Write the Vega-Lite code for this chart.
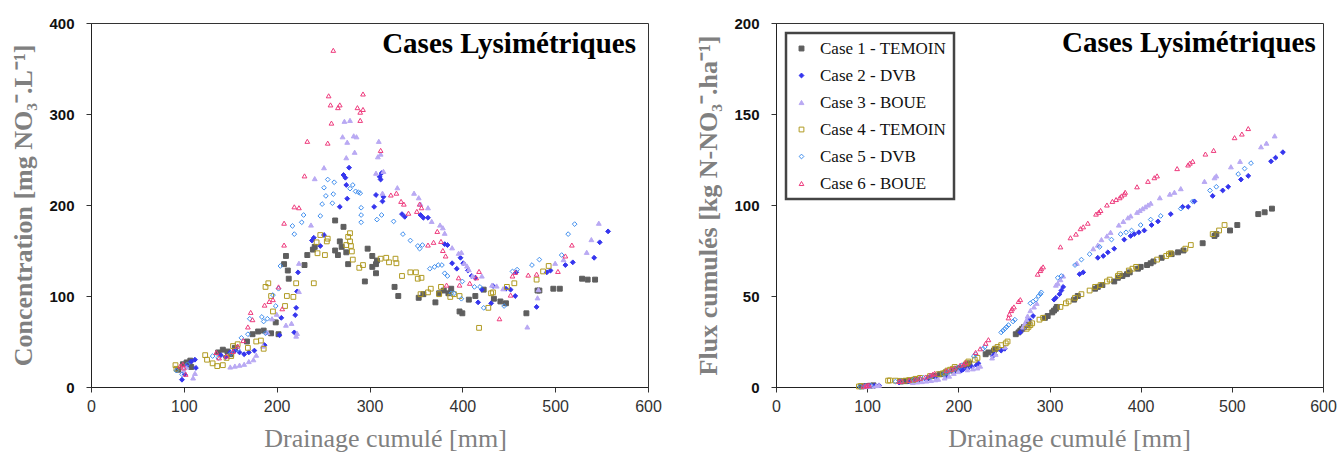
{
"$schema": "https://vega.github.io/schema/vega-lite/v6.json",
"padding": {"left": 10, "top": 15, "right": 5, "bottom": 5},
"background": "white",
"datasets": {
"conc": [
{"s":"Case 1 - TEMOIN","x":94,"y":19},{"s":"Case 1 - TEMOIN","x":99,"y":25},{"s":"Case 1 - TEMOIN","x":103,"y":27},{"s":"Case 1 - TEMOIN","x":107,"y":29},{"s":"Case 1 - TEMOIN","x":108,"y":22},{"s":"Case 1 - TEMOIN","x":137,"y":38},{"s":"Case 1 - TEMOIN","x":142,"y":41},{"s":"Case 1 - TEMOIN","x":147,"y":39},{"s":"Case 1 - TEMOIN","x":151,"y":36},{"s":"Case 1 - TEMOIN","x":155,"y":43},{"s":"Case 1 - TEMOIN","x":168,"y":50},{"s":"Case 1 - TEMOIN","x":174,"y":58},{"s":"Case 1 - TEMOIN","x":180,"y":61},{"s":"Case 1 - TEMOIN","x":186,"y":62},{"s":"Case 1 - TEMOIN","x":194,"y":59},{"s":"Case 1 - TEMOIN","x":199,"y":71},{"s":"Case 1 - TEMOIN","x":202,"y":58},{"s":"Case 1 - TEMOIN","x":208,"y":135},{"s":"Case 1 - TEMOIN","x":210,"y":144},{"s":"Case 1 - TEMOIN","x":212,"y":128},{"s":"Case 1 - TEMOIN","x":213,"y":119},{"s":"Case 1 - TEMOIN","x":230,"y":134},{"s":"Case 1 - TEMOIN","x":233,"y":145},{"s":"Case 1 - TEMOIN","x":239,"y":151},{"s":"Case 1 - TEMOIN","x":241,"y":154},{"s":"Case 1 - TEMOIN","x":263,"y":183},{"s":"Case 1 - TEMOIN","x":263,"y":150},{"s":"Case 1 - TEMOIN","x":266,"y":145},{"s":"Case 1 - TEMOIN","x":268,"y":160},{"s":"Case 1 - TEMOIN","x":270,"y":154},{"s":"Case 1 - TEMOIN","x":272,"y":176},{"s":"Case 1 - TEMOIN","x":275,"y":148},{"s":"Case 1 - TEMOIN","x":277,"y":135},{"s":"Case 1 - TEMOIN","x":295,"y":116},{"s":"Case 1 - TEMOIN","x":298,"y":152},{"s":"Case 1 - TEMOIN","x":303,"y":132},{"s":"Case 1 - TEMOIN","x":303,"y":144},{"s":"Case 1 - TEMOIN","x":307,"y":135},{"s":"Case 1 - TEMOIN","x":308,"y":139},{"s":"Case 1 - TEMOIN","x":307,"y":125},{"s":"Case 1 - TEMOIN","x":327,"y":110},{"s":"Case 1 - TEMOIN","x":331,"y":100},{"s":"Case 1 - TEMOIN","x":353,"y":98},{"s":"Case 1 - TEMOIN","x":358,"y":102},{"s":"Case 1 - TEMOIN","x":371,"y":93},{"s":"Case 1 - TEMOIN","x":375,"y":103},{"s":"Case 1 - TEMOIN","x":380,"y":106},{"s":"Case 1 - TEMOIN","x":385,"y":103},{"s":"Case 1 - TEMOIN","x":388,"y":108},{"s":"Case 1 - TEMOIN","x":397,"y":83},{"s":"Case 1 - TEMOIN","x":400,"y":81},{"s":"Case 1 - TEMOIN","x":407,"y":96},{"s":"Case 1 - TEMOIN","x":414,"y":100},{"s":"Case 1 - TEMOIN","x":423,"y":107},{"s":"Case 1 - TEMOIN","x":434,"y":97},{"s":"Case 1 - TEMOIN","x":441,"y":94},{"s":"Case 1 - TEMOIN","x":447,"y":92},{"s":"Case 1 - TEMOIN","x":469,"y":81},{"s":"Case 1 - TEMOIN","x":481,"y":106},{"s":"Case 1 - TEMOIN","x":483,"y":106},{"s":"Case 1 - TEMOIN","x":498,"y":108},{"s":"Case 1 - TEMOIN","x":505,"y":108},{"s":"Case 1 - TEMOIN","x":529,"y":119},{"s":"Case 1 - TEMOIN","x":535,"y":118},{"s":"Case 1 - TEMOIN","x":543,"y":118},
{"s":"Case 2 - DVB","x":98,"y":8},{"s":"Case 2 - DVB","x":101,"y":14},{"s":"Case 2 - DVB","x":103,"y":23},{"s":"Case 2 - DVB","x":108,"y":28},{"s":"Case 2 - DVB","x":112,"y":30},{"s":"Case 2 - DVB","x":113,"y":21},{"s":"Case 2 - DVB","x":140,"y":35},{"s":"Case 2 - DVB","x":145,"y":33},{"s":"Case 2 - DVB","x":150,"y":38},{"s":"Case 2 - DVB","x":155,"y":40},{"s":"Case 2 - DVB","x":160,"y":38},{"s":"Case 2 - DVB","x":165,"y":36},{"s":"Case 2 - DVB","x":170,"y":38},{"s":"Case 2 - DVB","x":176,"y":40},{"s":"Case 2 - DVB","x":187,"y":46},{"s":"Case 2 - DVB","x":203,"y":57},{"s":"Case 2 - DVB","x":205,"y":76},{"s":"Case 2 - DVB","x":219,"y":60},{"s":"Case 2 - DVB","x":220,"y":79},{"s":"Case 2 - DVB","x":221,"y":87},{"s":"Case 2 - DVB","x":222,"y":105},{"s":"Case 2 - DVB","x":223,"y":126},{"s":"Case 2 - DVB","x":238,"y":161},{"s":"Case 2 - DVB","x":240,"y":164},{"s":"Case 2 - DVB","x":247,"y":155},{"s":"Case 2 - DVB","x":251,"y":167},{"s":"Case 2 - DVB","x":268,"y":198},{"s":"Case 2 - DVB","x":272,"y":233},{"s":"Case 2 - DVB","x":274,"y":230},{"s":"Case 2 - DVB","x":275,"y":222},{"s":"Case 2 - DVB","x":276,"y":207},{"s":"Case 2 - DVB","x":278,"y":241},{"s":"Case 2 - DVB","x":305,"y":198},{"s":"Case 2 - DVB","x":307,"y":211},{"s":"Case 2 - DVB","x":311,"y":231},{"s":"Case 2 - DVB","x":312,"y":228},{"s":"Case 2 - DVB","x":313,"y":235},{"s":"Case 2 - DVB","x":314,"y":204},{"s":"Case 2 - DVB","x":315,"y":209},{"s":"Case 2 - DVB","x":335,"y":190},{"s":"Case 2 - DVB","x":338,"y":187},{"s":"Case 2 - DVB","x":355,"y":189},{"s":"Case 2 - DVB","x":358,"y":186},{"s":"Case 2 - DVB","x":363,"y":186},{"s":"Case 2 - DVB","x":381,"y":157},{"s":"Case 2 - DVB","x":384,"y":156},{"s":"Case 2 - DVB","x":389,"y":136},{"s":"Case 2 - DVB","x":394,"y":130},{"s":"Case 2 - DVB","x":398,"y":142},{"s":"Case 2 - DVB","x":401,"y":136},{"s":"Case 2 - DVB","x":406,"y":128},{"s":"Case 2 - DVB","x":410,"y":122},{"s":"Case 2 - DVB","x":414,"y":120},{"s":"Case 2 - DVB","x":417,"y":93},{"s":"Case 2 - DVB","x":421,"y":107},{"s":"Case 2 - DVB","x":431,"y":92},{"s":"Case 2 - DVB","x":433,"y":111},{"s":"Case 2 - DVB","x":447,"y":108},{"s":"Case 2 - DVB","x":452,"y":107},{"s":"Case 2 - DVB","x":457,"y":100},{"s":"Case 2 - DVB","x":458,"y":126},{"s":"Case 2 - DVB","x":480,"y":88},{"s":"Case 2 - DVB","x":491,"y":126},{"s":"Case 2 - DVB","x":495,"y":128},{"s":"Case 2 - DVB","x":511,"y":134},{"s":"Case 2 - DVB","x":519,"y":137},{"s":"Case 2 - DVB","x":542,"y":142},{"s":"Case 2 - DVB","x":548,"y":159},{"s":"Case 2 - DVB","x":557,"y":171},
{"s":"Case 3 - BOUE","x":100,"y":18},{"s":"Case 3 - BOUE","x":103,"y":22},{"s":"Case 3 - BOUE","x":110,"y":10},{"s":"Case 3 - BOUE","x":112,"y":15},{"s":"Case 3 - BOUE","x":150,"y":22},{"s":"Case 3 - BOUE","x":155,"y":23},{"s":"Case 3 - BOUE","x":160,"y":24},{"s":"Case 3 - BOUE","x":165,"y":25},{"s":"Case 3 - BOUE","x":170,"y":28},{"s":"Case 3 - BOUE","x":175,"y":30},{"s":"Case 3 - BOUE","x":178,"y":35},{"s":"Case 3 - BOUE","x":185,"y":45},{"s":"Case 3 - BOUE","x":190,"y":60},{"s":"Case 3 - BOUE","x":195,"y":75},{"s":"Case 3 - BOUE","x":200,"y":80},{"s":"Case 3 - BOUE","x":210,"y":68},{"s":"Case 3 - BOUE","x":216,"y":70},{"s":"Case 3 - BOUE","x":221,"y":56},{"s":"Case 3 - BOUE","x":222,"y":59},{"s":"Case 3 - BOUE","x":224,"y":105},{"s":"Case 3 - BOUE","x":224,"y":136},{"s":"Case 3 - BOUE","x":237,"y":178},{"s":"Case 3 - BOUE","x":241,"y":229},{"s":"Case 3 - BOUE","x":251,"y":241},{"s":"Case 3 - BOUE","x":271,"y":275},{"s":"Case 3 - BOUE","x":273,"y":292},{"s":"Case 3 - BOUE","x":279,"y":293},{"s":"Case 3 - BOUE","x":275,"y":252},{"s":"Case 3 - BOUE","x":276,"y":269},{"s":"Case 3 - BOUE","x":283,"y":276},{"s":"Case 3 - BOUE","x":286,"y":275},{"s":"Case 3 - BOUE","x":284,"y":258},{"s":"Case 3 - BOUE","x":307,"y":235},{"s":"Case 3 - BOUE","x":309,"y":253},{"s":"Case 3 - BOUE","x":310,"y":270},{"s":"Case 3 - BOUE","x":312,"y":256},{"s":"Case 3 - BOUE","x":314,"y":213},{"s":"Case 3 - BOUE","x":315,"y":237},{"s":"Case 3 - BOUE","x":330,"y":219},{"s":"Case 3 - BOUE","x":348,"y":213},{"s":"Case 3 - BOUE","x":353,"y":208},{"s":"Case 3 - BOUE","x":355,"y":201},{"s":"Case 3 - BOUE","x":363,"y":197},{"s":"Case 3 - BOUE","x":367,"y":182},{"s":"Case 3 - BOUE","x":376,"y":178},{"s":"Case 3 - BOUE","x":379,"y":175},{"s":"Case 3 - BOUE","x":381,"y":169},{"s":"Case 3 - BOUE","x":389,"y":153},{"s":"Case 3 - BOUE","x":396,"y":147},{"s":"Case 3 - BOUE","x":399,"y":148},{"s":"Case 3 - BOUE","x":402,"y":136},{"s":"Case 3 - BOUE","x":405,"y":133},{"s":"Case 3 - BOUE","x":407,"y":129},{"s":"Case 3 - BOUE","x":411,"y":122},{"s":"Case 3 - BOUE","x":421,"y":122},{"s":"Case 3 - BOUE","x":432,"y":112},{"s":"Case 3 - BOUE","x":437,"y":111},{"s":"Case 3 - BOUE","x":444,"y":108},{"s":"Case 3 - BOUE","x":470,"y":66},{"s":"Case 3 - BOUE","x":481,"y":98},{"s":"Case 3 - BOUE","x":482,"y":107},{"s":"Case 3 - BOUE","x":500,"y":136},{"s":"Case 3 - BOUE","x":509,"y":140},{"s":"Case 3 - BOUE","x":534,"y":148},{"s":"Case 3 - BOUE","x":539,"y":162},{"s":"Case 3 - BOUE","x":547,"y":180},
{"s":"Case 4 - TEMOIN","x":91,"y":24},{"s":"Case 4 - TEMOIN","x":92,"y":20},{"s":"Case 4 - TEMOIN","x":123,"y":35},{"s":"Case 4 - TEMOIN","x":125,"y":30},{"s":"Case 4 - TEMOIN","x":131,"y":26},{"s":"Case 4 - TEMOIN","x":136,"y":23},{"s":"Case 4 - TEMOIN","x":142,"y":24},{"s":"Case 4 - TEMOIN","x":146,"y":32},{"s":"Case 4 - TEMOIN","x":151,"y":34},{"s":"Case 4 - TEMOIN","x":153,"y":45},{"s":"Case 4 - TEMOIN","x":158,"y":47},{"s":"Case 4 - TEMOIN","x":169,"y":43},{"s":"Case 4 - TEMOIN","x":178,"y":50},{"s":"Case 4 - TEMOIN","x":183,"y":51},{"s":"Case 4 - TEMOIN","x":186,"y":42},{"s":"Case 4 - TEMOIN","x":188,"y":110},{"s":"Case 4 - TEMOIN","x":191,"y":114},{"s":"Case 4 - TEMOIN","x":194,"y":100},{"s":"Case 4 - TEMOIN","x":196,"y":83},{"s":"Case 4 - TEMOIN","x":209,"y":89},{"s":"Case 4 - TEMOIN","x":211,"y":100},{"s":"Case 4 - TEMOIN","x":218,"y":99},{"s":"Case 4 - TEMOIN","x":221,"y":114},{"s":"Case 4 - TEMOIN","x":240,"y":114},{"s":"Case 4 - TEMOIN","x":243,"y":159},{"s":"Case 4 - TEMOIN","x":244,"y":147},{"s":"Case 4 - TEMOIN","x":247,"y":167},{"s":"Case 4 - TEMOIN","x":252,"y":145},{"s":"Case 4 - TEMOIN","x":254,"y":160},{"s":"Case 4 - TEMOIN","x":255,"y":163},{"s":"Case 4 - TEMOIN","x":275,"y":156},{"s":"Case 4 - TEMOIN","x":277,"y":165},{"s":"Case 4 - TEMOIN","x":279,"y":169},{"s":"Case 4 - TEMOIN","x":279,"y":160},{"s":"Case 4 - TEMOIN","x":280,"y":155},{"s":"Case 4 - TEMOIN","x":281,"y":149},{"s":"Case 4 - TEMOIN","x":282,"y":140},{"s":"Case 4 - TEMOIN","x":289,"y":131},{"s":"Case 4 - TEMOIN","x":293,"y":134},{"s":"Case 4 - TEMOIN","x":312,"y":141},{"s":"Case 4 - TEMOIN","x":318,"y":142},{"s":"Case 4 - TEMOIN","x":321,"y":137},{"s":"Case 4 - TEMOIN","x":328,"y":141},{"s":"Case 4 - TEMOIN","x":329,"y":136},{"s":"Case 4 - TEMOIN","x":335,"y":122},{"s":"Case 4 - TEMOIN","x":344,"y":126},{"s":"Case 4 - TEMOIN","x":350,"y":126},{"s":"Case 4 - TEMOIN","x":352,"y":119},{"s":"Case 4 - TEMOIN","x":356,"y":120},{"s":"Case 4 - TEMOIN","x":355,"y":102},{"s":"Case 4 - TEMOIN","x":363,"y":104},{"s":"Case 4 - TEMOIN","x":366,"y":108},{"s":"Case 4 - TEMOIN","x":375,"y":102},{"s":"Case 4 - TEMOIN","x":377,"y":110},{"s":"Case 4 - TEMOIN","x":387,"y":99},{"s":"Case 4 - TEMOIN","x":391,"y":102},{"s":"Case 4 - TEMOIN","x":397,"y":100},{"s":"Case 4 - TEMOIN","x":418,"y":65},{"s":"Case 4 - TEMOIN","x":428,"y":87},{"s":"Case 4 - TEMOIN","x":431,"y":103},{"s":"Case 4 - TEMOIN","x":433,"y":104},{"s":"Case 4 - TEMOIN","x":448,"y":110},{"s":"Case 4 - TEMOIN","x":456,"y":114},{"s":"Case 4 - TEMOIN","x":480,"y":118},{"s":"Case 4 - TEMOIN","x":487,"y":127},{"s":"Case 4 - TEMOIN","x":493,"y":133},
{"s":"Case 5 - DVB","x":92,"y":18},{"s":"Case 5 - DVB","x":98,"y":14},{"s":"Case 5 - DVB","x":104,"y":25},{"s":"Case 5 - DVB","x":131,"y":34},{"s":"Case 5 - DVB","x":137,"y":32},{"s":"Case 5 - DVB","x":151,"y":37},{"s":"Case 5 - DVB","x":158,"y":41},{"s":"Case 5 - DVB","x":162,"y":54},{"s":"Case 5 - DVB","x":169,"y":58},{"s":"Case 5 - DVB","x":171,"y":75},{"s":"Case 5 - DVB","x":184,"y":77},{"s":"Case 5 - DVB","x":186,"y":72},{"s":"Case 5 - DVB","x":188,"y":59},{"s":"Case 5 - DVB","x":190,"y":75},{"s":"Case 5 - DVB","x":196,"y":101},{"s":"Case 5 - DVB","x":199,"y":89},{"s":"Case 5 - DVB","x":202,"y":108},{"s":"Case 5 - DVB","x":204,"y":133},{"s":"Case 5 - DVB","x":217,"y":177},{"s":"Case 5 - DVB","x":219,"y":168},{"s":"Case 5 - DVB","x":227,"y":181},{"s":"Case 5 - DVB","x":229,"y":189},{"s":"Case 5 - DVB","x":247,"y":188},{"s":"Case 5 - DVB","x":249,"y":201},{"s":"Case 5 - DVB","x":251,"y":219},{"s":"Case 5 - DVB","x":253,"y":210},{"s":"Case 5 - DVB","x":255,"y":228},{"s":"Case 5 - DVB","x":260,"y":202},{"s":"Case 5 - DVB","x":261,"y":212},{"s":"Case 5 - DVB","x":262,"y":225},{"s":"Case 5 - DVB","x":279,"y":218},{"s":"Case 5 - DVB","x":282,"y":222},{"s":"Case 5 - DVB","x":285,"y":215},{"s":"Case 5 - DVB","x":288,"y":214},{"s":"Case 5 - DVB","x":290,"y":213},{"s":"Case 5 - DVB","x":291,"y":197},{"s":"Case 5 - DVB","x":291,"y":189},{"s":"Case 5 - DVB","x":291,"y":181},{"s":"Case 5 - DVB","x":308,"y":184},{"s":"Case 5 - DVB","x":313,"y":189},{"s":"Case 5 - DVB","x":326,"y":182},{"s":"Case 5 - DVB","x":336,"y":168},{"s":"Case 5 - DVB","x":344,"y":161},{"s":"Case 5 - DVB","x":352,"y":155},{"s":"Case 5 - DVB","x":354,"y":152},{"s":"Case 5 - DVB","x":357,"y":156},{"s":"Case 5 - DVB","x":365,"y":130},{"s":"Case 5 - DVB","x":370,"y":132},{"s":"Case 5 - DVB","x":374,"y":134},{"s":"Case 5 - DVB","x":378,"y":134},{"s":"Case 5 - DVB","x":381,"y":125},{"s":"Case 5 - DVB","x":384,"y":122},{"s":"Case 5 - DVB","x":388,"y":103},{"s":"Case 5 - DVB","x":391,"y":103},{"s":"Case 5 - DVB","x":399,"y":97},{"s":"Case 5 - DVB","x":400,"y":116},{"s":"Case 5 - DVB","x":413,"y":110},{"s":"Case 5 - DVB","x":419,"y":110},{"s":"Case 5 - DVB","x":423,"y":87},{"s":"Case 5 - DVB","x":445,"y":89},{"s":"Case 5 - DVB","x":454,"y":127},{"s":"Case 5 - DVB","x":459,"y":129},{"s":"Case 5 - DVB","x":475,"y":134},{"s":"Case 5 - DVB","x":483,"y":140},{"s":"Case 5 - DVB","x":507,"y":145},{"s":"Case 5 - DVB","x":514,"y":168},{"s":"Case 5 - DVB","x":521,"y":179},
{"s":"Case 6 - BOUE","x":96,"y":23},{"s":"Case 6 - BOUE","x":99,"y":25},{"s":"Case 6 - BOUE","x":100,"y":21},{"s":"Case 6 - BOUE","x":102,"y":14},{"s":"Case 6 - BOUE","x":135,"y":38},{"s":"Case 6 - BOUE","x":138,"y":32},{"s":"Case 6 - BOUE","x":146,"y":34},{"s":"Case 6 - BOUE","x":153,"y":39},{"s":"Case 6 - BOUE","x":158,"y":45},{"s":"Case 6 - BOUE","x":164,"y":51},{"s":"Case 6 - BOUE","x":169,"y":66},{"s":"Case 6 - BOUE","x":172,"y":82},{"s":"Case 6 - BOUE","x":174,"y":74},{"s":"Case 6 - BOUE","x":187,"y":90},{"s":"Case 6 - BOUE","x":192,"y":94},{"s":"Case 6 - BOUE","x":196,"y":96},{"s":"Case 6 - BOUE","x":202,"y":110},{"s":"Case 6 - BOUE","x":206,"y":86},{"s":"Case 6 - BOUE","x":208,"y":156},{"s":"Case 6 - BOUE","x":208,"y":180},{"s":"Case 6 - BOUE","x":219,"y":198},{"s":"Case 6 - BOUE","x":224,"y":197},{"s":"Case 6 - BOUE","x":230,"y":232},{"s":"Case 6 - BOUE","x":233,"y":270},{"s":"Case 6 - BOUE","x":255,"y":268},{"s":"Case 6 - BOUE","x":256,"y":320},{"s":"Case 6 - BOUE","x":258,"y":310},{"s":"Case 6 - BOUE","x":259,"y":290},{"s":"Case 6 - BOUE","x":261,"y":370},{"s":"Case 6 - BOUE","x":266,"y":307},{"s":"Case 6 - BOUE","x":268,"y":310},{"s":"Case 6 - BOUE","x":287,"y":307},{"s":"Case 6 - BOUE","x":290,"y":302},{"s":"Case 6 - BOUE","x":290,"y":293},{"s":"Case 6 - BOUE","x":293,"y":322},{"s":"Case 6 - BOUE","x":293,"y":305},{"s":"Case 6 - BOUE","x":312,"y":260},{"s":"Case 6 - BOUE","x":323,"y":211},{"s":"Case 6 - BOUE","x":329,"y":213},{"s":"Case 6 - BOUE","x":334,"y":204},{"s":"Case 6 - BOUE","x":337,"y":201},{"s":"Case 6 - BOUE","x":342,"y":191},{"s":"Case 6 - BOUE","x":351,"y":193},{"s":"Case 6 - BOUE","x":354,"y":201},{"s":"Case 6 - BOUE","x":356,"y":197},{"s":"Case 6 - BOUE","x":363,"y":156},{"s":"Case 6 - BOUE","x":369,"y":159},{"s":"Case 6 - BOUE","x":373,"y":171},{"s":"Case 6 - BOUE","x":377,"y":160},{"s":"Case 6 - BOUE","x":379,"y":150},{"s":"Case 6 - BOUE","x":382,"y":144},{"s":"Case 6 - BOUE","x":383,"y":112},{"s":"Case 6 - BOUE","x":396,"y":120},{"s":"Case 6 - BOUE","x":397,"y":112},{"s":"Case 6 - BOUE","x":408,"y":114},{"s":"Case 6 - BOUE","x":415,"y":120},{"s":"Case 6 - BOUE","x":418,"y":127},{"s":"Case 6 - BOUE","x":440,"y":75},{"s":"Case 6 - BOUE","x":452,"y":101},{"s":"Case 6 - BOUE","x":454,"y":122},{"s":"Case 6 - BOUE","x":457,"y":126},{"s":"Case 6 - BOUE","x":471,"y":123},{"s":"Case 6 - BOUE","x":480,"y":124},{"s":"Case 6 - BOUE","x":503,"y":127},{"s":"Case 6 - BOUE","x":511,"y":144},{"s":"Case 6 - BOUE","x":518,"y":156}
],
"flux": [
{"s":"Case 1 - TEMOIN","x":94,"y":0.3},{"s":"Case 1 - TEMOIN","x":99,"y":0.5},{"s":"Case 1 - TEMOIN","x":103,"y":0.7},{"s":"Case 1 - TEMOIN","x":107,"y":0.9},{"s":"Case 1 - TEMOIN","x":137,"y":3},{"s":"Case 1 - TEMOIN","x":142,"y":3.2},{"s":"Case 1 - TEMOIN","x":147,"y":3.5},{"s":"Case 1 - TEMOIN","x":151,"y":3.8},{"s":"Case 1 - TEMOIN","x":155,"y":4},{"s":"Case 1 - TEMOIN","x":168,"y":5},{"s":"Case 1 - TEMOIN","x":174,"y":6},{"s":"Case 1 - TEMOIN","x":180,"y":7},{"s":"Case 1 - TEMOIN","x":186,"y":8},{"s":"Case 1 - TEMOIN","x":194,"y":9},{"s":"Case 1 - TEMOIN","x":199,"y":10},{"s":"Case 1 - TEMOIN","x":202,"y":10.5},{"s":"Case 1 - TEMOIN","x":208,"y":12},{"s":"Case 1 - TEMOIN","x":210,"y":12.5},{"s":"Case 1 - TEMOIN","x":212,"y":13},{"s":"Case 1 - TEMOIN","x":230,"y":18},{"s":"Case 1 - TEMOIN","x":233,"y":19},{"s":"Case 1 - TEMOIN","x":239,"y":20},{"s":"Case 1 - TEMOIN","x":241,"y":21},{"s":"Case 1 - TEMOIN","x":263,"y":29},{"s":"Case 1 - TEMOIN","x":266,"y":30},{"s":"Case 1 - TEMOIN","x":268,"y":31},{"s":"Case 1 - TEMOIN","x":270,"y":32},{"s":"Case 1 - TEMOIN","x":272,"y":33},{"s":"Case 1 - TEMOIN","x":275,"y":34},{"s":"Case 1 - TEMOIN","x":277,"y":35},{"s":"Case 1 - TEMOIN","x":295,"y":38},{"s":"Case 1 - TEMOIN","x":298,"y":39},{"s":"Case 1 - TEMOIN","x":303,"y":41},{"s":"Case 1 - TEMOIN","x":305,"y":42},{"s":"Case 1 - TEMOIN","x":307,"y":43},{"s":"Case 1 - TEMOIN","x":308,"y":44},{"s":"Case 1 - TEMOIN","x":327,"y":48},{"s":"Case 1 - TEMOIN","x":331,"y":50},{"s":"Case 1 - TEMOIN","x":350,"y":54},{"s":"Case 1 - TEMOIN","x":353,"y":55},{"s":"Case 1 - TEMOIN","x":358,"y":56},{"s":"Case 1 - TEMOIN","x":371,"y":58},{"s":"Case 1 - TEMOIN","x":375,"y":60},{"s":"Case 1 - TEMOIN","x":380,"y":61},{"s":"Case 1 - TEMOIN","x":385,"y":62},{"s":"Case 1 - TEMOIN","x":388,"y":63},{"s":"Case 1 - TEMOIN","x":397,"y":65},{"s":"Case 1 - TEMOIN","x":400,"y":66},{"s":"Case 1 - TEMOIN","x":407,"y":67},{"s":"Case 1 - TEMOIN","x":411,"y":68},{"s":"Case 1 - TEMOIN","x":414,"y":69},{"s":"Case 1 - TEMOIN","x":423,"y":71},{"s":"Case 1 - TEMOIN","x":434,"y":73},{"s":"Case 1 - TEMOIN","x":441,"y":74},{"s":"Case 1 - TEMOIN","x":447,"y":75},{"s":"Case 1 - TEMOIN","x":468,"y":79},{"s":"Case 1 - TEMOIN","x":481,"y":83},{"s":"Case 1 - TEMOIN","x":483,"y":84},{"s":"Case 1 - TEMOIN","x":498,"y":86},{"s":"Case 1 - TEMOIN","x":506,"y":89},{"s":"Case 1 - TEMOIN","x":529,"y":95},{"s":"Case 1 - TEMOIN","x":536,"y":96},{"s":"Case 1 - TEMOIN","x":544,"y":98},
{"s":"Case 2 - DVB","x":97,"y":0.2},{"s":"Case 2 - DVB","x":100,"y":0.4},{"s":"Case 2 - DVB","x":103,"y":0.5},{"s":"Case 2 - DVB","x":108,"y":0.7},{"s":"Case 2 - DVB","x":113,"y":0.9},{"s":"Case 2 - DVB","x":135,"y":2.5},{"s":"Case 2 - DVB","x":145,"y":3},{"s":"Case 2 - DVB","x":155,"y":3.5},{"s":"Case 2 - DVB","x":165,"y":4},{"s":"Case 2 - DVB","x":176,"y":5},{"s":"Case 2 - DVB","x":187,"y":6},{"s":"Case 2 - DVB","x":195,"y":8},{"s":"Case 2 - DVB","x":203,"y":9},{"s":"Case 2 - DVB","x":205,"y":9.5},{"s":"Case 2 - DVB","x":210,"y":10},{"s":"Case 2 - DVB","x":215,"y":11},{"s":"Case 2 - DVB","x":220,"y":12},{"s":"Case 2 - DVB","x":222,"y":13},{"s":"Case 2 - DVB","x":238,"y":17},{"s":"Case 2 - DVB","x":240,"y":18},{"s":"Case 2 - DVB","x":247,"y":20},{"s":"Case 2 - DVB","x":251,"y":21},{"s":"Case 2 - DVB","x":268,"y":30},{"s":"Case 2 - DVB","x":272,"y":32},{"s":"Case 2 - DVB","x":275,"y":34},{"s":"Case 2 - DVB","x":278,"y":37},{"s":"Case 2 - DVB","x":282,"y":39},{"s":"Case 2 - DVB","x":305,"y":48},{"s":"Case 2 - DVB","x":307,"y":49},{"s":"Case 2 - DVB","x":311,"y":51},{"s":"Case 2 - DVB","x":313,"y":53},{"s":"Case 2 - DVB","x":315,"y":55},{"s":"Case 2 - DVB","x":333,"y":62},{"s":"Case 2 - DVB","x":337,"y":63},{"s":"Case 2 - DVB","x":353,"y":71},{"s":"Case 2 - DVB","x":359,"y":72},{"s":"Case 2 - DVB","x":364,"y":74},{"s":"Case 2 - DVB","x":371,"y":76},{"s":"Case 2 - DVB","x":382,"y":81},{"s":"Case 2 - DVB","x":389,"y":83},{"s":"Case 2 - DVB","x":393,"y":84},{"s":"Case 2 - DVB","x":398,"y":85},{"s":"Case 2 - DVB","x":404,"y":86},{"s":"Case 2 - DVB","x":412,"y":89},{"s":"Case 2 - DVB","x":419,"y":91},{"s":"Case 2 - DVB","x":433,"y":95},{"s":"Case 2 - DVB","x":446,"y":99},{"s":"Case 2 - DVB","x":452,"y":99},{"s":"Case 2 - DVB","x":459,"y":102},{"s":"Case 2 - DVB","x":479,"y":105},{"s":"Case 2 - DVB","x":490,"y":108},{"s":"Case 2 - DVB","x":496,"y":110},{"s":"Case 2 - DVB","x":510,"y":114},{"s":"Case 2 - DVB","x":518,"y":116},{"s":"Case 2 - DVB","x":543,"y":124},{"s":"Case 2 - DVB","x":548,"y":126},{"s":"Case 2 - DVB","x":556,"y":129},
{"s":"Case 3 - BOUE","x":98,"y":0.3},{"s":"Case 3 - BOUE","x":101,"y":0.5},{"s":"Case 3 - BOUE","x":105,"y":0.6},{"s":"Case 3 - BOUE","x":110,"y":0.8},{"s":"Case 3 - BOUE","x":113,"y":1},{"s":"Case 3 - BOUE","x":150,"y":2.5},{"s":"Case 3 - BOUE","x":155,"y":2.8},{"s":"Case 3 - BOUE","x":160,"y":3},{"s":"Case 3 - BOUE","x":165,"y":3.3},{"s":"Case 3 - BOUE","x":170,"y":3.6},{"s":"Case 3 - BOUE","x":175,"y":4},{"s":"Case 3 - BOUE","x":178,"y":4.3},{"s":"Case 3 - BOUE","x":185,"y":5},{"s":"Case 3 - BOUE","x":190,"y":6},{"s":"Case 3 - BOUE","x":195,"y":7.5},{"s":"Case 3 - BOUE","x":200,"y":8.5},{"s":"Case 3 - BOUE","x":210,"y":9.5},{"s":"Case 3 - BOUE","x":216,"y":10},{"s":"Case 3 - BOUE","x":221,"y":10.5},{"s":"Case 3 - BOUE","x":224,"y":11.5},{"s":"Case 3 - BOUE","x":237,"y":16},{"s":"Case 3 - BOUE","x":241,"y":18},{"s":"Case 3 - BOUE","x":251,"y":22},{"s":"Case 3 - BOUE","x":271,"y":33},{"s":"Case 3 - BOUE","x":273,"y":35},{"s":"Case 3 - BOUE","x":275,"y":37},{"s":"Case 3 - BOUE","x":276,"y":39},{"s":"Case 3 - BOUE","x":279,"y":42},{"s":"Case 3 - BOUE","x":283,"y":44},{"s":"Case 3 - BOUE","x":286,"y":46},{"s":"Case 3 - BOUE","x":307,"y":56},{"s":"Case 3 - BOUE","x":309,"y":57},{"s":"Case 3 - BOUE","x":312,"y":59},{"s":"Case 3 - BOUE","x":315,"y":61},{"s":"Case 3 - BOUE","x":330,"y":68},{"s":"Case 3 - BOUE","x":348,"y":76},{"s":"Case 3 - BOUE","x":353,"y":78},{"s":"Case 3 - BOUE","x":357,"y":81},{"s":"Case 3 - BOUE","x":363,"y":83},{"s":"Case 3 - BOUE","x":367,"y":85},{"s":"Case 3 - BOUE","x":376,"y":89},{"s":"Case 3 - BOUE","x":381,"y":91},{"s":"Case 3 - BOUE","x":386,"y":93},{"s":"Case 3 - BOUE","x":389,"y":94},{"s":"Case 3 - BOUE","x":396,"y":96},{"s":"Case 3 - BOUE","x":399,"y":97},{"s":"Case 3 - BOUE","x":402,"y":98},{"s":"Case 3 - BOUE","x":405,"y":99},{"s":"Case 3 - BOUE","x":408,"y":100},{"s":"Case 3 - BOUE","x":411,"y":101},{"s":"Case 3 - BOUE","x":421,"y":104},{"s":"Case 3 - BOUE","x":432,"y":106},{"s":"Case 3 - BOUE","x":437,"y":107},{"s":"Case 3 - BOUE","x":444,"y":109},{"s":"Case 3 - BOUE","x":470,"y":113},{"s":"Case 3 - BOUE","x":481,"y":115},{"s":"Case 3 - BOUE","x":483,"y":116},{"s":"Case 3 - BOUE","x":499,"y":121},{"s":"Case 3 - BOUE","x":509,"y":124},{"s":"Case 3 - BOUE","x":532,"y":132},{"s":"Case 3 - BOUE","x":538,"y":134},{"s":"Case 3 - BOUE","x":547,"y":138},
{"s":"Case 4 - TEMOIN","x":91,"y":0.3},{"s":"Case 4 - TEMOIN","x":93,"y":0.5},{"s":"Case 4 - TEMOIN","x":123,"y":3.5},{"s":"Case 4 - TEMOIN","x":125,"y":3.6},{"s":"Case 4 - TEMOIN","x":131,"y":3.5},{"s":"Case 4 - TEMOIN","x":136,"y":3.4},{"s":"Case 4 - TEMOIN","x":142,"y":3.5},{"s":"Case 4 - TEMOIN","x":146,"y":3.8},{"s":"Case 4 - TEMOIN","x":151,"y":4},{"s":"Case 4 - TEMOIN","x":153,"y":4.5},{"s":"Case 4 - TEMOIN","x":158,"y":5},{"s":"Case 4 - TEMOIN","x":169,"y":6},{"s":"Case 4 - TEMOIN","x":178,"y":7},{"s":"Case 4 - TEMOIN","x":183,"y":7.5},{"s":"Case 4 - TEMOIN","x":186,"y":8},{"s":"Case 4 - TEMOIN","x":188,"y":9},{"s":"Case 4 - TEMOIN","x":191,"y":9.5},{"s":"Case 4 - TEMOIN","x":194,"y":10},{"s":"Case 4 - TEMOIN","x":196,"y":11},{"s":"Case 4 - TEMOIN","x":209,"y":13},{"s":"Case 4 - TEMOIN","x":211,"y":14},{"s":"Case 4 - TEMOIN","x":218,"y":15},{"s":"Case 4 - TEMOIN","x":221,"y":16},{"s":"Case 4 - TEMOIN","x":240,"y":21},{"s":"Case 4 - TEMOIN","x":243,"y":22},{"s":"Case 4 - TEMOIN","x":247,"y":23},{"s":"Case 4 - TEMOIN","x":252,"y":24},{"s":"Case 4 - TEMOIN","x":254,"y":25},{"s":"Case 4 - TEMOIN","x":275,"y":32},{"s":"Case 4 - TEMOIN","x":277,"y":33},{"s":"Case 4 - TEMOIN","x":279,"y":34},{"s":"Case 4 - TEMOIN","x":281,"y":35},{"s":"Case 4 - TEMOIN","x":289,"y":37},{"s":"Case 4 - TEMOIN","x":293,"y":38},{"s":"Case 4 - TEMOIN","x":312,"y":44},{"s":"Case 4 - TEMOIN","x":318,"y":46},{"s":"Case 4 - TEMOIN","x":321,"y":47},{"s":"Case 4 - TEMOIN","x":328,"y":49},{"s":"Case 4 - TEMOIN","x":335,"y":51},{"s":"Case 4 - TEMOIN","x":344,"y":53},{"s":"Case 4 - TEMOIN","x":350,"y":55},{"s":"Case 4 - TEMOIN","x":356,"y":56},{"s":"Case 4 - TEMOIN","x":363,"y":58},{"s":"Case 4 - TEMOIN","x":366,"y":59},{"s":"Case 4 - TEMOIN","x":375,"y":61},{"s":"Case 4 - TEMOIN","x":377,"y":62},{"s":"Case 4 - TEMOIN","x":387,"y":64},{"s":"Case 4 - TEMOIN","x":391,"y":65},{"s":"Case 4 - TEMOIN","x":395,"y":66},{"s":"Case 4 - TEMOIN","x":418,"y":70},{"s":"Case 4 - TEMOIN","x":428,"y":72},{"s":"Case 4 - TEMOIN","x":431,"y":73},{"s":"Case 4 - TEMOIN","x":433,"y":73.5},{"s":"Case 4 - TEMOIN","x":449,"y":76},{"s":"Case 4 - TEMOIN","x":455,"y":78},{"s":"Case 4 - TEMOIN","x":479,"y":84},{"s":"Case 4 - TEMOIN","x":486,"y":86},{"s":"Case 4 - TEMOIN","x":492,"y":89},
{"s":"Case 5 - DVB","x":92,"y":0.3},{"s":"Case 5 - DVB","x":98,"y":0.5},{"s":"Case 5 - DVB","x":104,"y":0.8},{"s":"Case 5 - DVB","x":131,"y":3},{"s":"Case 5 - DVB","x":137,"y":3.2},{"s":"Case 5 - DVB","x":151,"y":4},{"s":"Case 5 - DVB","x":158,"y":4.5},{"s":"Case 5 - DVB","x":162,"y":5},{"s":"Case 5 - DVB","x":169,"y":5.5},{"s":"Case 5 - DVB","x":171,"y":6},{"s":"Case 5 - DVB","x":184,"y":7},{"s":"Case 5 - DVB","x":188,"y":8},{"s":"Case 5 - DVB","x":190,"y":8.5},{"s":"Case 5 - DVB","x":196,"y":10},{"s":"Case 5 - DVB","x":199,"y":10.5},{"s":"Case 5 - DVB","x":202,"y":11},{"s":"Case 5 - DVB","x":204,"y":12},{"s":"Case 5 - DVB","x":217,"y":17},{"s":"Case 5 - DVB","x":219,"y":18},{"s":"Case 5 - DVB","x":227,"y":21},{"s":"Case 5 - DVB","x":229,"y":22},{"s":"Case 5 - DVB","x":247,"y":30},{"s":"Case 5 - DVB","x":249,"y":31},{"s":"Case 5 - DVB","x":251,"y":32},{"s":"Case 5 - DVB","x":253,"y":33},{"s":"Case 5 - DVB","x":255,"y":34},{"s":"Case 5 - DVB","x":260,"y":36},{"s":"Case 5 - DVB","x":262,"y":37},{"s":"Case 5 - DVB","x":279,"y":46},{"s":"Case 5 - DVB","x":282,"y":47},{"s":"Case 5 - DVB","x":285,"y":48},{"s":"Case 5 - DVB","x":288,"y":50},{"s":"Case 5 - DVB","x":290,"y":51},{"s":"Case 5 - DVB","x":291,"y":52},{"s":"Case 5 - DVB","x":309,"y":60},{"s":"Case 5 - DVB","x":313,"y":61},{"s":"Case 5 - DVB","x":328,"y":67},{"s":"Case 5 - DVB","x":335,"y":70},{"s":"Case 5 - DVB","x":344,"y":73},{"s":"Case 5 - DVB","x":355,"y":77},{"s":"Case 5 - DVB","x":368,"y":81},{"s":"Case 5 - DVB","x":378,"y":84},{"s":"Case 5 - DVB","x":384,"y":85},{"s":"Case 5 - DVB","x":390,"y":86},{"s":"Case 5 - DVB","x":400,"y":89},{"s":"Case 5 - DVB","x":411,"y":92},{"s":"Case 5 - DVB","x":422,"y":94},{"s":"Case 5 - DVB","x":444,"y":98},{"s":"Case 5 - DVB","x":457,"y":102},{"s":"Case 5 - DVB","x":476,"y":108},{"s":"Case 5 - DVB","x":483,"y":110},{"s":"Case 5 - DVB","x":507,"y":117},{"s":"Case 5 - DVB","x":514,"y":120},{"s":"Case 5 - DVB","x":521,"y":123},
{"s":"Case 6 - BOUE","x":96,"y":0.5},{"s":"Case 6 - BOUE","x":99,"y":0.6},{"s":"Case 6 - BOUE","x":100,"y":0.8},{"s":"Case 6 - BOUE","x":102,"y":1},{"s":"Case 6 - BOUE","x":135,"y":3},{"s":"Case 6 - BOUE","x":138,"y":3.2},{"s":"Case 6 - BOUE","x":146,"y":3.7},{"s":"Case 6 - BOUE","x":153,"y":4.3},{"s":"Case 6 - BOUE","x":158,"y":4.8},{"s":"Case 6 - BOUE","x":164,"y":5.5},{"s":"Case 6 - BOUE","x":169,"y":6.5},{"s":"Case 6 - BOUE","x":172,"y":7},{"s":"Case 6 - BOUE","x":174,"y":7.5},{"s":"Case 6 - BOUE","x":187,"y":9},{"s":"Case 6 - BOUE","x":192,"y":9.8},{"s":"Case 6 - BOUE","x":196,"y":10.5},{"s":"Case 6 - BOUE","x":202,"y":12},{"s":"Case 6 - BOUE","x":206,"y":12.5},{"s":"Case 6 - BOUE","x":208,"y":13.5},{"s":"Case 6 - BOUE","x":219,"y":19},{"s":"Case 6 - BOUE","x":224,"y":21},{"s":"Case 6 - BOUE","x":230,"y":24},{"s":"Case 6 - BOUE","x":233,"y":26},{"s":"Case 6 - BOUE","x":255,"y":38},{"s":"Case 6 - BOUE","x":256,"y":40},{"s":"Case 6 - BOUE","x":258,"y":42},{"s":"Case 6 - BOUE","x":259,"y":43},{"s":"Case 6 - BOUE","x":261,"y":44},{"s":"Case 6 - BOUE","x":266,"y":47},{"s":"Case 6 - BOUE","x":268,"y":48},{"s":"Case 6 - BOUE","x":287,"y":62},{"s":"Case 6 - BOUE","x":290,"y":64},{"s":"Case 6 - BOUE","x":291,"y":65},{"s":"Case 6 - BOUE","x":293,"y":66},{"s":"Case 6 - BOUE","x":312,"y":77},{"s":"Case 6 - BOUE","x":323,"y":82},{"s":"Case 6 - BOUE","x":329,"y":84},{"s":"Case 6 - BOUE","x":334,"y":87},{"s":"Case 6 - BOUE","x":337,"y":88},{"s":"Case 6 - BOUE","x":342,"y":90},{"s":"Case 6 - BOUE","x":351,"y":95},{"s":"Case 6 - BOUE","x":354,"y":96},{"s":"Case 6 - BOUE","x":356,"y":97},{"s":"Case 6 - BOUE","x":363,"y":100},{"s":"Case 6 - BOUE","x":369,"y":102},{"s":"Case 6 - BOUE","x":373,"y":103},{"s":"Case 6 - BOUE","x":377,"y":104},{"s":"Case 6 - BOUE","x":379,"y":105},{"s":"Case 6 - BOUE","x":382,"y":106},{"s":"Case 6 - BOUE","x":383,"y":107},{"s":"Case 6 - BOUE","x":396,"y":110},{"s":"Case 6 - BOUE","x":408,"y":113},{"s":"Case 6 - BOUE","x":415,"y":115},{"s":"Case 6 - BOUE","x":418,"y":116},{"s":"Case 6 - BOUE","x":440,"y":120},{"s":"Case 6 - BOUE","x":452,"y":122},{"s":"Case 6 - BOUE","x":454,"y":123},{"s":"Case 6 - BOUE","x":457,"y":124},{"s":"Case 6 - BOUE","x":471,"y":128},{"s":"Case 6 - BOUE","x":480,"y":130},{"s":"Case 6 - BOUE","x":503,"y":137},{"s":"Case 6 - BOUE","x":511,"y":139},{"s":"Case 6 - BOUE","x":518,"y":142}
]
},
"spacing": 33,
"resolve": {"scale": {"shape": "independent", "fill": "independent", "stroke": "independent", "size": "independent"}, "legend": {"shape": "independent", "fill": "independent", "stroke": "independent", "size": "independent"}},
"hconcat": [
{
"width": 557, "height": 364,
"layer": [
{
"data": {"name": "conc"},
"mark": {"type": "point", "strokeWidth": 1, "opacity": 1},
"encoding": {
"x": {"field": "x", "type": "quantitative", "scale": {"domain": [0, 600], "nice": false}, "axis": {"values": [0,100,200,300,400,500,600], "title": "Drainage cumulé [mm]", "titleX": 294}},
"y": {"field": "y", "type": "quantitative", "scale": {"domain": [0, 400], "nice": false}, "axis": {"values": [0,100,200,300,400], "title": "Concentration [mg NO₃⁻.L⁻¹]"}},
"shape": {"field": "s", "type": "nominal", "legend": null, "scale": {"domain": ["Case 1 - TEMOIN","Case 2 - DVB","Case 3 - BOUE","Case 4 - TEMOIN","Case 5 - DVB","Case 6 - BOUE"], "range": ["square","diamond","triangle-up","square","diamond","triangle-up"]}},
"stroke": {"field": "s", "type": "nominal", "legend": null, "scale": {"domain": ["Case 1 - TEMOIN","Case 2 - DVB","Case 3 - BOUE","Case 4 - TEMOIN","Case 5 - DVB","Case 6 - BOUE"], "range": ["#5e5e5e","#3535ee","#b9a9f3","#b09a22","#3f8eee","#ee3b7d"]}},
"fill": {"field": "s", "type": "nominal", "legend": null, "scale": {"domain": ["Case 1 - TEMOIN","Case 2 - DVB","Case 3 - BOUE","Case 4 - TEMOIN","Case 5 - DVB","Case 6 - BOUE"], "range": ["#5e5e5e","#3535ee","#b9a9f3","transparent","transparent","transparent"]}},
"size": {"field": "s", "type": "nominal", "legend": null, "scale": {"domain": ["Case 1 - TEMOIN","Case 2 - DVB","Case 3 - BOUE","Case 4 - TEMOIN","Case 5 - DVB","Case 6 - BOUE"], "range": [24,22,26,26,30,40]}}
}
},
{
"data": {"values": [{"x": 587, "y": 377, "t": "Cases Lysimétriques"}]},
"mark": {"type": "text", "align": "right", "baseline": "middle", "font": "Liberation Serif", "fontSize": 29, "fontWeight": "bold", "color": "black"},
"encoding": {"x": {"field": "x", "type": "quantitative"}, "y": {"field": "y", "type": "quantitative"}, "text": {"field": "t"}}
}
]
},
{
"width": 547, "height": 364,
"layer": [
{
"data": {"name": "flux"},
"mark": {"type": "point", "strokeWidth": 1, "opacity": 1},
"encoding": {
"x": {"field": "x", "type": "quantitative", "scale": {"domain": [0, 600], "nice": false}, "axis": {"values": [0,100,200,300,400,500,600], "title": "Drainage cumulé [mm]", "titleX": 293}},
"y": {"field": "y", "type": "quantitative", "scale": {"domain": [0, 200], "nice": false}, "axis": {"values": [0,50,100,150,200], "title": "Flux cumulés [kg N-NO₃⁻.ha⁻¹]"}},
"shape": {"field": "s", "type": "nominal", "scale": {"domain": ["Case 1 - TEMOIN","Case 2 - DVB","Case 3 - BOUE","Case 4 - TEMOIN","Case 5 - DVB","Case 6 - BOUE"], "range": ["square","diamond","triangle-up","square","diamond","triangle-up"]}, "legend": {"title": null, "orient": "top-left", "offset": 10}},
"stroke": {"field": "s", "type": "nominal", "scale": {"domain": ["Case 1 - TEMOIN","Case 2 - DVB","Case 3 - BOUE","Case 4 - TEMOIN","Case 5 - DVB","Case 6 - BOUE"], "range": ["#5e5e5e","#3535ee","#b9a9f3","#b09a22","#3f8eee","#ee3b7d"]}, "legend": {"title": null, "orient": "top-left", "offset": 10}},
"fill": {"field": "s", "type": "nominal", "scale": {"domain": ["Case 1 - TEMOIN","Case 2 - DVB","Case 3 - BOUE","Case 4 - TEMOIN","Case 5 - DVB","Case 6 - BOUE"], "range": ["#5e5e5e","#3535ee","#b9a9f3","transparent","transparent","transparent"]}, "legend": {"title": null, "orient": "top-left", "offset": 10}},
"size": {"field": "s", "type": "nominal", "scale": {"domain": ["Case 1 - TEMOIN","Case 2 - DVB","Case 3 - BOUE","Case 4 - TEMOIN","Case 5 - DVB","Case 6 - BOUE"], "range": [24,22,26,26,30,40]}, "legend": {"title": null, "orient": "top-left", "offset": 10}}
}
},
{
"data": {"values": [{"x": 592, "y": 189, "t": "Cases Lysimétriques"}]},
"mark": {"type": "text", "align": "right", "baseline": "middle", "font": "Liberation Serif", "fontSize": 29, "fontWeight": "bold", "color": "black"},
"encoding": {"x": {"field": "x", "type": "quantitative"}, "y": {"field": "y", "type": "quantitative"}, "text": {"field": "t"}}
}
]
}
],
"config": {
"view": {"stroke": "#333", "strokeWidth": 1},
"axis": {"grid": false, "domainColor": "#222", "tickColor": "#333", "tickSize": 5, "titleColor": "#808080", "titleFont": "Liberation Serif"},
"axisX": {"labelFont": "Liberation Sans", "labelFontSize": 16, "labelColor": "#333", "labelFlush": false, "labelPadding": 6, "titleFontSize": 26, "titleFontWeight": "normal", "titlePadding": 11},
"axisY": {"labelFont": "Liberation Sans", "labelFontSize": 15, "labelFontWeight": "bold", "labelColor": "#111", "labelPadding": 12, "titleFontSize": 26, "titleFontWeight": "bold", "titlePadding": 12},
"legend": {"labelFont": "Liberation Serif", "labelFontSize": 17, "labelColor": "#111", "padding": 7, "rowPadding": 9, "strokeColor": "#444", "strokeWidth": 2.5, "fillColor": "white", "labelLimit": 300, "symbolStrokeWidth": 1, "labelOffset": 10}
}
}
